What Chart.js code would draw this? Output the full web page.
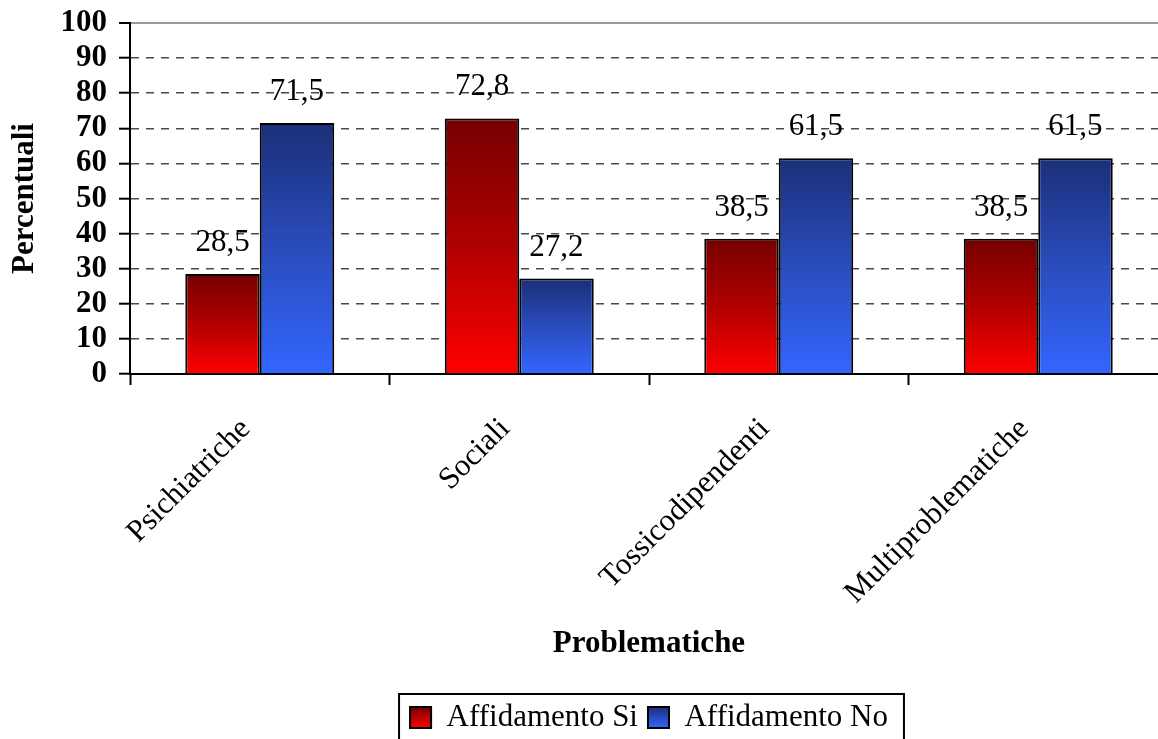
<!DOCTYPE html>
<html>
<head>
<meta charset="utf-8">
<script src="https://cdn.jsdelivr.net/npm/chart.js@4/dist/chart.umd.min.js"></script>
<style>
  html, body { margin: 0; padding: 0; background: #fff; overflow: hidden; }
  #wrap { position: absolute; left: 0; top: 0; width: 1180px; height: 745px; }
</style>
</head>
<body>
<div id="wrap"><canvas id="myChart" width="1180" height="745"></canvas></div>
<script>
// chart data
const categories = ["Psichiatriche", "Sociali", "Tossicodipendenti", "Multiproblematiche"];
const affidamentoSi = [28.5, 72.8, 38.5, 38.5];
const affidamentoNo = [71.5, 27.2, 61.5, 61.5];
const seriesNames = ["Affidamento Si", "Affidamento No"];
const yMin = 0, yMax = 100, yStep = 10;

const FONT = "'Liberation Serif', 'Times New Roman', serif";

// gradient colours, dark on top -> bright at the bottom
const redStops = ["#760000", "#b00000", "#ff0000"];
const blueStops = ["#1a2f78", "#2a4cbc", "#3366ff"];

function barGradient(stops) {
  return function(ctx) {
    const chart = ctx.chart;
    if (!chart.chartArea || ctx.raw === undefined) return stops[1];
    const y = chart.scales.y;
    const top = y.getPixelForValue(ctx.raw);
    const base = y.getPixelForValue(0);
    const g = chart.ctx.createLinearGradient(0, top, 0, base);
    g.addColorStop(0, stops[0]);
    g.addColorStop(0.5, stops[1]);
    g.addColorStop(1, stops[2]);
    return g;
  };
}

// numbers over the bars
const valueLabels = {
  id: "valueLabels",
  afterDatasetsDraw(chart) {
    const ctx = chart.ctx;
    ctx.save();
    ctx.font = "31px " + FONT;
    ctx.fillStyle = "#000";
    ctx.textAlign = "center";
    ctx.textBaseline = "alphabetic";
    chart.data.datasets.forEach((ds, di) => {
      const meta = chart.getDatasetMeta(di);
      meta.data.forEach((bar, i) => {
        const txt = String(ds.data[i]).replace(".", ",");
        ctx.fillText(txt, bar.x, bar.y - 23);
      });
    });
    ctx.restore();
  }
};

// frame round the legend + gradient boxes
const legendFrame = {
  id: "legendFrame",
  afterDraw(chart) {
    const lg = chart.legend;
    if (!lg || !lg.legendHitBoxes.length) return;
    const hb = lg.legendHitBoxes;
    const ctx = chart.ctx;
    const left = hb[0].left - 11;
    const right = hb[hb.length - 1].left + hb[hb.length - 1].width + 16;
    const top = hb[0].top - 8;
    const bottom = hb[0].top + hb[0].height + 14;
    ctx.save();
    ctx.lineWidth = 2;
    ctx.strokeStyle = "#000";
    ctx.strokeRect(left, top, right - left, bottom - top);
    const lab = lg.options.labels;
    const fs = lab.font.size;
    [redStops, blueStops].forEach((stops, i) => {
      const bx = hb[i].left;
      const by = hb[i].top + Math.max((fs - lab.boxHeight) / 2, 0);
      const g = ctx.createLinearGradient(0, by, 0, by + lab.boxHeight);
      g.addColorStop(0, stops[0]);
      g.addColorStop(1, stops[2]);
      ctx.fillStyle = g;
      ctx.fillRect(bx, by, lab.boxWidth, lab.boxHeight);
      ctx.lineWidth = 2;
      ctx.strokeRect(bx, by, lab.boxWidth, lab.boxHeight);
    });
    ctx.restore();
  }
};

const isTop = (c) => c.tick && c.tick.value === yMax;

new Chart(document.getElementById("myChart").getContext("2d"), {
  type: "bar",
  data: {
    labels: categories,
    datasets: [
      {
        label: seriesNames[0],
        data: affidamentoSi,
        backgroundColor: barGradient(redStops),
        borderColor: "#000",
        borderWidth: 2,
        categoryPercentage: 0.574,
        barPercentage: 1
      },
      {
        label: seriesNames[1],
        data: affidamentoNo,
        backgroundColor: barGradient(blueStops),
        borderColor: "#000",
        borderWidth: 2,
        categoryPercentage: 0.574,
        barPercentage: 1
      }
    ]
  },
  options: {
    responsive: false,
    animation: false,
    layout: { padding: { top: 23, right: 12, bottom: 2, left: 0 } },
    plugins: {
      tooltip: { enabled: false },
      legend: {
        position: "bottom",
        fullSize: false,
        labels: {
          color: "#000",
          font: { family: FONT, size: 31 },
          boxWidth: 21,
          boxHeight: 21,
          padding: 10
        }
      }
    },
    scales: {
      x: {
        afterFit(scale) { scale.height = 318; },
        grid: {
          drawOnChartArea: false,
          tickColor: "#000",
          tickWidth: 2,
          tickLength: 11
        },
        border: { color: "#000", width: 2 },
        ticks: {
          color: "#000",
          font: { family: FONT, size: 31 },
          minRotation: 45,
          maxRotation: 45,
          padding: 26,
          labelOffset: -14
        },
        title: {
          display: true,
          text: "Problematiche",
          color: "#000",
          font: { family: FONT, size: 31, weight: "bold" },
          padding: { top: 4, bottom: 29 }
        }
      },
      y: {
        min: yMin,
        max: yMax,
        afterFit(scale) {
          scale.width = 130;
          scale.paddingTop = 0;
          scale.paddingBottom = 0;
        },
        grid: {
          color: (c) => isTop(c) ? "#9a9a9a" : "#4a4a4a",
          lineWidth: (c) => isTop(c) ? 2 : 1.4,
          tickColor: "#000",
          tickWidth: 2,
          tickLength: 11,
          tickBorderDash: [0, 0]
        },
        border: {
          color: "#000",
          width: 2,
          dash: (c) => isTop(c) ? [] : [8, 7]
        },
        ticks: {
          stepSize: yStep,
          autoSkip: false,
          color: "#000",
          font: { family: FONT, size: 31, weight: "bold" },
          padding: 12
        },
        title: {
          display: true,
          text: "Percentuali",
          color: "#000",
          font: { family: FONT, size: 31, weight: "bold" },
          padding: { top: 6, bottom: 6 }
        }
      }
    }
  },
  plugins: [valueLabels, legendFrame]
});
</script>
</body>
</html>
